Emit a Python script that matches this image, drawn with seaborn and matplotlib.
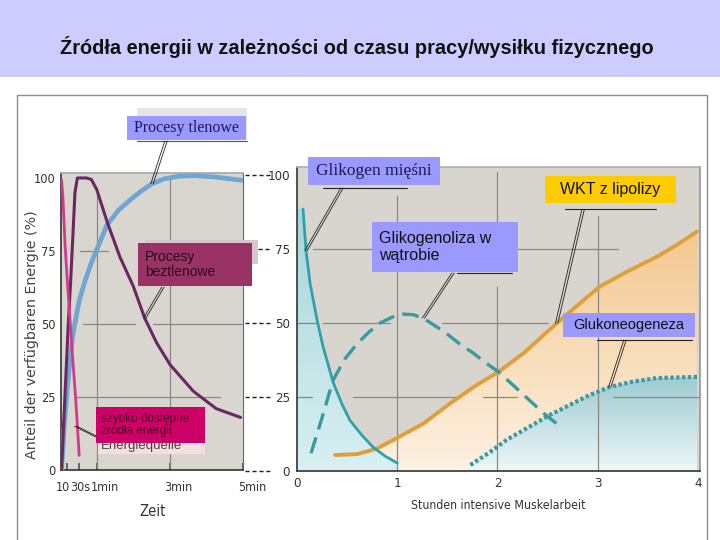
import numpy as np
import matplotlib.pyplot as plt
import seaborn as sns
from matplotlib import font_manager as fm
from matplotlib.colors import LinearSegmentedColormap
from matplotlib.patches import Rectangle

# lewy panel: czas w sekundach, udzial w %
t_szybkie = [0, 1, 3, 7, 11, 15, 19, 24, 27, 30]
v_szybkie = [100, 99, 94, 76, 63, 51, 39, 25, 15, 5]
t_beztlen = [1, 4, 8, 12, 16, 20, 23, 27, 32, 42, 50, 59, 76, 97, 119, 138, 158, 180, 218, 256, 296]
v_beztlen = [0, 14, 32, 50, 65, 82, 95, 100, 100, 100, 99.5, 96, 85, 73, 63, 52, 43.4, 36, 27, 21, 18]
t_tlen = [1, 5, 10, 15, 20, 30, 40, 50, 60, 76, 95, 114, 132, 150, 170, 195, 220, 250, 275, 298]
v_tlen = [0, 14, 27, 38, 47, 58, 65, 71, 76, 84, 89, 92.5, 95.5, 98, 99.7, 100.6, 100.8, 100.4, 99.8, 99.2]
czas_ticks = [10, 30, 60, 180, 300]
czas_labels = ["10", "30s", "1min", "3min", "5min"]
proc_ticks = [0, 25, 50, 75, 100]

# prawy panel: godziny pracy
h_glik_m = [0.06, 0.09, 0.13, 0.20, 0.26, 0.36, 0.45, 0.53, 0.65, 0.76, 0.88, 1.0]
v_glik_m = [88.5, 74.5, 63.5, 51, 42, 30, 22.5, 17, 12, 8, 5, 2.7]
h_watroba = [0.14, 0.25, 0.36, 0.48, 0.6, 0.72, 0.83, 0.95, 1.06, 1.16, 1.26, 1.38, 1.49,
             1.62, 1.76, 1.88, 2.01, 2.14, 2.26, 2.38, 2.46, 2.61]
v_watroba = [6, 18, 30.7, 38, 43, 47, 50, 52, 53, 52.8, 51.6, 49, 46.5,
             43, 39.8, 36.6, 33.5, 29.5, 25.7, 22, 19.5, 15.5]
h_wkt = [0.38, 0.6, 0.8, 0.99, 1.26, 1.53, 1.79, 2.01, 2.26, 2.59, 2.82, 3.02, 3.29, 3.59, 3.79, 3.99]
v_wkt = [5.4, 5.7, 7.6, 11, 16, 22.9, 29, 33.5, 39.8, 49.9, 56.6, 62.3, 67.3, 72.4, 76.4, 80.9]
h_glukoneo = [1.73, 1.93, 2.09, 2.32, 2.52, 2.72, 2.92, 3.12, 3.35, 3.59, 3.79, 3.99]
v_glukoneo = [2, 6.5, 10.5, 15, 18.9, 22.3, 25.7, 28.4, 30.2, 31.4, 31.6, 31.8]
godz_ticks = [0, 1, 2, 3, 4]

sns.set_theme(style="white")
plt.rcParams['font.family'] = ['Liberation Sans', 'DejaVu Sans']


def pick_narrow():
    # waska czcionka do opisow osi, jesli jest
    for fam, st in [("Liberation Sans Narrow", "normal"), ("DejaVu Sans", "condensed"),
                    ("Roboto Condensed", "normal")]:
        try:
            p = fm.findfont(fm.FontProperties(family=fam, stretch=st), fallback_to_default=False)
        except ValueError:
            continue
        if "Narrow" in p or "Condensed" in p:
            return {"family": fam, "stretch": st}, 1.0
    return {"family": "Liberation Sans"}, 0.88


NARROW, fscale = pick_narrow()
W, H = 720, 540


def nfont(size):
    return fm.FontProperties(size=size * fscale, **NARROW)


def rect(x0, y0, x1, y1):
    return [x0 / W, 1 - y1 / H, (x1 - x0) / W, (y1 - y0) / H]


def gradient_fill(ax, x, y, c_top, c_bot, y_top, z):
    poly = ax.fill_between(x, y, 0, color="none", lw=0)
    cmap = LinearSegmentedColormap.from_list("g", [c_bot, c_top])
    img = ax.imshow(np.linspace(0, 1, 256).reshape(-1, 1), cmap=cmap, aspect="auto",
                    origin="lower", extent=[min(x), max(x), 0, y_top], zorder=z)
    img.set_clip_path(poly.get_paths()[0], transform=ax.transData)


def narrow_ticks(ax, size):
    for lbl in ax.get_xticklabels() + ax.get_yticklabels():
        lbl.set_fontproperties(nfont(size))


fig = plt.figure(figsize=(7.2, 5.4), dpi=100)
fig.patch.set_facecolor("white")
grid_c = "#8a8782"

# ---- lewy panel
ax1 = fig.add_axes(rect(61, 173, 243, 470))
ax1.set_facecolor("#d9d6d0")
ax1.set_xlim(0, 300)
ax1.set_ylim(0, 101.7)
for yv, segs in {75: [(31, 78)], 50: [(36, 122), (152, 298)], 25: [(26, 262)]}.items():
    for a, b in segs:
        ax1.plot([a, b], [yv, yv], color=grid_c, lw=0.9, zorder=1)
for xv, (a, b) in {60: (1, 96), 180: (1, 100)}.items():
    ax1.plot([xv, xv], [a, b], color=grid_c, lw=0.9, zorder=1)

sns.lineplot(x=t_tlen, y=v_tlen, ax=ax1, color="#6fa7d2", lw=3.4, zorder=3)
sns.lineplot(x=t_beztlen, y=v_beztlen, ax=ax1, color="#6b2860", lw=2.2, zorder=4)
sns.lineplot(x=t_szybkie, y=v_szybkie, ax=ax1, color="#d2398a", lw=2.0, zorder=5)

ax1.set_yticks(proc_ticks)
ax1.set_xticks(czas_ticks)
ax1.set_xticklabels([])
ax1.tick_params(axis="y", length=0, pad=4, labelcolor="#333333")
ax1.tick_params(axis="x", direction="in", length=5, color="#555555", bottom=True)
narrow_ticks(ax1, 9.2)
for lbl, tv, dx in zip(czas_labels, czas_ticks, [-3.2, 0.8, 5.5, 5.8, 6.5]):
    ax1.annotate(lbl, xy=(tv, 0), xytext=(dx, -8), textcoords="offset points",
                 ha="center", va="top", color="#333333", annotation_clip=False,
                 fontproperties=nfont(9))
for s in ["left", "bottom"]:
    ax1.spines[s].set_color("#333333")
    ax1.spines[s].set_linewidth(1.2)
ax1.spines["top"].set_color("#a8a8a8")
ax1.spines["right"].set_color("#666666")
ax1.spines["right"].set_linewidth(0.8)
ax1.set_ylabel("Anteil der verfügbaren Energie (%)", family="DejaVu Sans", fontsize=10.3,
               color="#444444")
ax1.yaxis.set_label_coords(-22 / 182, 135 / 297)
ax1.set_xlabel("Zeit", color="#333333", fontproperties=nfont(10.5))
ax1.xaxis.set_label_coords(91 / 182, -34 / 297)

# ---- prawy panel
ax2 = fig.add_axes(rect(297, 167, 700, 471))
ax2.set_facecolor("#d8d5cf")
ax2.set_xlim(0, 4.02)
ax2.set_ylim(0, 102.7)

gradient_fill(ax2, h_wkt, v_wkt, "#f3c88e", "#fdf1e2", 81, 1.2)
gradient_fill(ax2, h_glukoneo, v_glukoneo, "#9ccbd0", "#eef7f7", 32, 1.3)
gradient_fill(ax2, [0] + h_glik_m, [v_glik_m[0]] + v_glik_m, "#a8d5d9", "#d8f0f1", 89, 1.3)
ax2.set_xlim(0, 4.02)
ax2.set_ylim(0, 102.7)

hgrid = {75: [(0.16, 0.76), (2.2, 3.2)],
         50: [(0.0, 0.2), (0.26, 0.93), (1.45, 2.5)],
         25: [(0.0, 0.15), (0.56, 1.6), (1.86, 2.19), (3.15, 4.02)]}
vgrid = {1: [(0, 93)], 2: [(0, 62), (75, 101)], 3: [(0, 86)]}
for yv, segs in hgrid.items():
    for a, b in segs:
        ax2.plot([a, b], [yv, yv], color=grid_c, lw=0.9, zorder=1.6)
for xv, segs in vgrid.items():
    for a, b in segs:
        ax2.plot([xv, xv], [a, b], color=grid_c, lw=0.9, zorder=1.6)

sns.lineplot(x=h_wkt, y=v_wkt, ax=ax2, color="#dea03a", lw=2.8, zorder=3)
sns.lineplot(x=h_glukoneo, y=v_glukoneo, ax=ax2, color="#3a9aa6", lw=3.0,
             linestyle=(0, (0.8, 0.6)), zorder=3)
sns.lineplot(x=h_watroba, y=v_watroba, ax=ax2, color="#3b9a9f", lw=2.4,
             linestyle=(0, (5, 2.5)), zorder=4)
sns.lineplot(x=h_glik_m, y=v_glik_m, ax=ax2, color="#2ea2ac", lw=2.0, zorder=5)

ax2.set_xticks(godz_ticks)
ax2.set_yticks(proc_ticks)
ax2.tick_params(axis="both", length=0, labelcolor="#333333")
ax2.tick_params(axis="y", pad=5)
ax2.tick_params(axis="x", pad=4)
narrow_ticks(ax2, 9.5)
for s in ["left", "bottom"]:
    ax2.spines[s].set_color("#333333")
    ax2.spines[s].set_linewidth(1.2)
ax2.spines["top"].set_color("#b0b0b0")
ax2.spines["right"].set_color("#9a9a9a")
ax2.set_xlabel("Stunden intensive Muskelarbeit", color="#333333", fontproperties=nfont(8.8))
ax2.xaxis.set_label_coords(201 / 403, -28 / 304)
for yv in proc_ticks:
    start = -0.39 if yv == 75 else -0.52
    ax2.plot([start, -0.265], [yv, yv], color="#222222", lw=1.0, ls=(0, (3, 2)),
             clip_on=False)

# ---- warstwa opisow (piksele)
ov = fig.add_axes([0, 0, 1, 1], zorder=10)
ov.set_xlim(0, W)
ov.set_ylim(H, 0)
ov.axis("off")
ov.patch.set_alpha(0)

ov.add_patch(Rectangle((0, 0), W, 77, facecolor="#ccccff", edgecolor="none"))
ov.text(357, 47, "Źródła energii w zależności od czasu pracy/wysiłku fizycznego",
        family="Liberation Sans", fontweight="bold", fontsize=14.4, ha="center", va="center",
        color="#111111")
ov.add_patch(Rectangle((17, 95), 690, 460, facecolor="none", edgecolor="#8c8c8c", lw=1.0))


def px(ax, x, y):
    return ov.transData.inverted().transform(ax.transData.transform((x, y)))


def leader(x0, y0, pt):
    for d in (-1.2, 1.2):
        ov.plot([x0 + d, pt[0] + d], [y0, pt[1]], color="#222222", lw=0.6, zorder=2)


def label_box(x0, y0, x1, y1, fc, txt, tx, ty, **kw):
    ov.add_patch(Rectangle((x0, y0), x1 - x0, y1 - y0, facecolor=fc, edgecolor="none", zorder=3))
    ov.text(tx, ty, txt, va="center", zorder=4, **kw)


# Procesy tlenowe
ov.add_patch(Rectangle((137, 108), 110, 32, facecolor="#e6e4e8", edgecolor="none", zorder=1))
ov.plot([137, 247], [140.5, 140.5], color="#555555", lw=0.8, zorder=2)
leader(166, 141, px(ax1, t_tlen[13], v_tlen[13]))
label_box(127, 116, 246, 140, "#9999ff", "Procesy tlenowe", 186.5, 128,
          ha="center", family="Liberation Serif", fontsize=11.5, color="#1b1b55")

# Procesy beztlenowe
ov.add_patch(Rectangle((145, 240), 113, 24, facecolor="#d8c6cd", edgecolor="none", zorder=1))
leader(163, 287, px(ax1, t_beztlen[15], v_beztlen[15]))
label_box(138, 243, 252, 286, "#993366", "Procesy\nbeztlenowe", 145, 264.5,
          ha="left", family="Liberation Sans", fontsize=10, color="#2b0a1f", linespacing=1.1)

# szybko dostepne zrodla energii
ov.add_patch(Rectangle((98, 437), 107, 17, facecolor="#f4dede", edgecolor="none", zorder=1))
ov.text(101, 446, "Energiequelle", family="Liberation Sans", fontsize=9.5, color="#444444",
        va="center", zorder=2)
leader(97, 437, px(ax1, t_szybkie[7], v_szybkie[7] - 10))
label_box(96, 407, 205, 443, "#cc0066", "szybko dostępne\nźródła energii", 101, 425,
          ha="left", family="Liberation Sans", fontsize=8.5, color="#4d0526", linespacing=1.1)

# Glikogen miesni
ov.plot([323, 407], [187.5, 187.5], color="#222222", lw=0.8, zorder=2)
leader(342, 188, px(ax2, h_glik_m[1], v_glik_m[1]))
label_box(308, 157, 440, 185, "#9999ff", "Glikogen mięśni", 374, 171,
          ha="center", family="Liberation Serif", fontsize=12.5, color="#1b1b55")

# Glikogenoliza w watrobie
ov.plot([457, 512], [273, 273], color="#222222", lw=0.8, zorder=2)
leader(453, 273, px(ax2, h_watroba[10], v_watroba[10]))
label_box(372, 222, 518, 272, "#9999ff", "Glikogenoliza w\nwątrobie", 379, 247,
          ha="left", family="Liberation Sans", fontsize=11.5, color="#111111", linespacing=1.15)

# WKT z lipolizy
ov.plot([565, 656], [209, 209], color="#222222", lw=0.8, zorder=2)
leader(583, 210, px(ax2, h_wkt[9], v_wkt[9]))
label_box(545, 176, 676, 203, "#ffcc00", "WKT z lipolizy", 610.5, 189.5,
          ha="center", family="Liberation Sans", fontsize=11.5, color="#111111")

# Glukoneogeneza
ov.plot([597, 692], [340, 340], color="#222222", lw=0.8, zorder=2)
leader(625, 340, px(ax2, h_glukoneo[7], v_glukoneo[7]))
label_box(563, 313, 695, 337, "#9999ff", "Glukoneogeneza", 629, 325,
          ha="center", family="Liberation Sans", fontsize=10.5, color="#111111")

fig.savefig("out.png", dpi=100)
